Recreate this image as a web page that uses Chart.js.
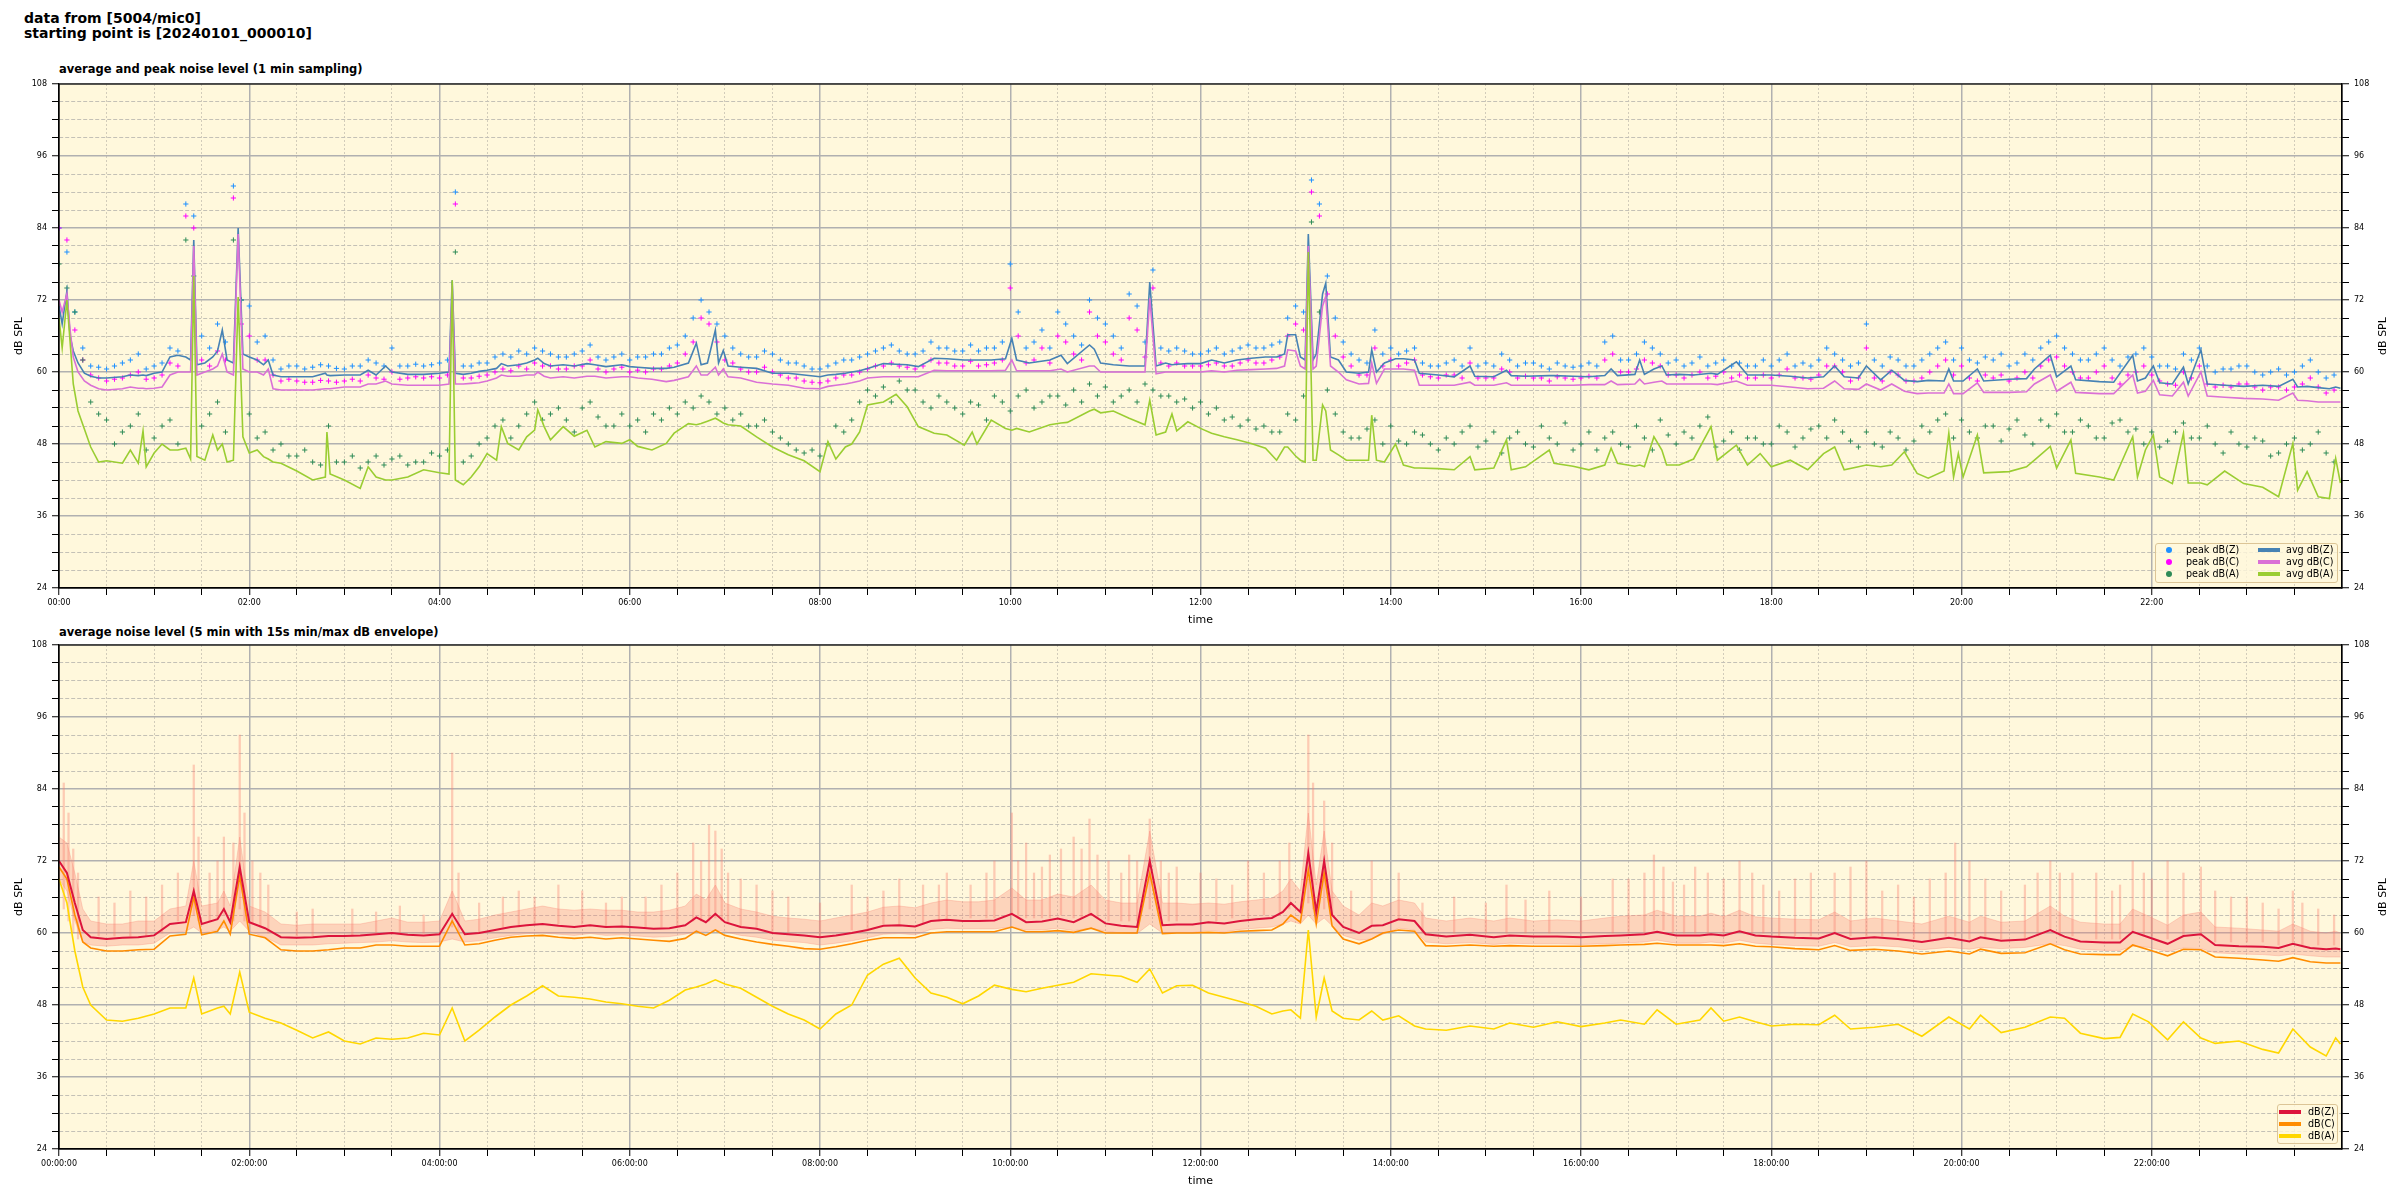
<!DOCTYPE html>
<html>
<head>
<meta charset="utf-8">
<title>noise level</title>
<script src="https://cdn.jsdelivr.net/npm/chart.js@4.4.1/dist/chart.umd.min.js"></script>
<style>
html,body{margin:0;padding:0;background:#ffffff;}
body{position:relative;width:2400px;height:1200px;overflow:hidden;font-family:"DejaVu Sans",sans-serif;color:#000;}
#sup{position:absolute;left:24px;top:11px;font-weight:bold;font-size:14px;line-height:15px;white-space:pre;}
.sub{position:absolute;left:59px;font-weight:bold;font-size:11.5px;line-height:13px;white-space:nowrap;}
.rt{position:absolute;font-size:11px;line-height:13px;white-space:nowrap;transform:translate(-50%,-50%) rotate(-90deg);}
.cv{position:absolute;left:0;}
.lg{position:absolute;background:rgba(255,248,220,0.8);border:1px solid #dcc596;border-radius:3px;box-sizing:border-box;font-size:9.6px;}
.lg span{position:absolute;display:block;white-space:nowrap;line-height:12px;}
</style>
</head>
<body>
<div id="sup">data from [5004/mic0]
starting point is [20240101_000010]</div>
<div class="sub" style="top:63px">average and peak noise level (1 min sampling)</div>
<div class="sub" style="top:626px">average noise level (5 min with 15s min/max dB envelope)</div>
<canvas id="c1" class="cv" width="2400" height="580" style="top:60px"></canvas>
<canvas id="c2" class="cv" width="2400" height="580" style="top:620px"></canvas>
<div class="rt" style="left:2382px;top:336px">dB SPL</div>
<div class="rt" style="left:2382px;top:897px">dB SPL</div>
<div id="lg1" class="lg" style="left:2155px;top:543px;width:183px;height:40px"></div>
<div id="lg2" class="lg" style="left:2277px;top:1104px;width:61px;height:40px"></div>
<script>
// ---------- top chart: 1-min averages (minutes since 00:00) ----------
const avgMinutes = [
 0,2,5,7,9,12,16,20,25,30,
 40,45,50,53,55,60,65,70,75,80,83,
 85,87,92,97,100,103,106,110,113,116,120,125,129,132,135,
 140,150,160,168,169,171,180,190,195,200,206,210,220,230,240,246,248,250,
 255,260,265,270,276,279,283,290,295,300,302,306,310,318,325,333,338,345,355,
 360,365,374,383,388,397,402,405,409,414,416,419,422,430,
 440,450,460,470,480,485,490,496,500,505,510,520,528,535,542,
 552,560,571,576,579,588,597,601,604,612,625,632,636,
 650,653,657,665,675,685,688,692,698,702,705,712,720,
 727,735,743,752,761,768,773,775,780,783,786,788,791,793,797,799,802,
 807,812,820,826,828,831,836,843,848,855,858,
 870,880,890,893,905,913,916,925,940,943,955,965,975,979,983,994,997,1000,
 1006,1011,1014,1022,1031,1042,1046,1058,1065,1073,1080,
 1092,1103,1113,1120,1126,1135,1140,1149,1156,1164,1172,1179,1189,1192,1195,1198,1201,1210,1214,
 1230,1241,1246,1256,1260,1269,1272,1287,1296,1308,1311,1316,1321,1325,1333,1340,1343,
 1351,1355,1366,1378,1390,1400,1409,1412,1418,1425,1432,1436,1439
];
const avgZ = [
 71,68,73.5,66,63.5,61.5,59.8,59.3,59,59,
 59.2,59.5,59.4,59.5,59.4,59.8,60,62.5,62.8,62.5,62,
 82,61.2,61.5,62.5,63.5,67,62,61.5,84,63,62.5,62,61.2,62,59.5,
 59.2,59.2,59.2,59.8,59.5,59.4,59.5,59.5,60.3,59.5,61,60,59.6,59.6,59.8,60,75.3,59.8,
 59.6,59.8,60.1,60.3,60.6,61.4,61,61.2,61.5,62,62.3,61.4,61,61.2,61,61.4,61.2,60.9,61.2,
 60.9,60.8,60.6,60.6,60.8,61.5,64.8,61.2,61.5,67,61.5,63.6,61,60.8,
 60.6,59.8,59.8,59.5,59.2,59.5,59.6,59.8,60,60.2,60.6,61.4,61.3,61.2,60.9,
 62.3,62.2,62,62,62,62,62.2,65.6,62,61.5,62,62.8,61.4,
 64.5,63.8,61.5,61.2,61,61,75,61,61.5,61.2,61.3,61.4,61.4,
 62,61.5,62,62.3,62.5,62.5,63,66.2,66.2,62.5,62,83,62,63,73,74.8,62.5,
 62,60,59.8,60,63.7,60,61.5,62.2,62.2,62,59.8,
 59.5,59.2,61,59.3,59.2,60.3,59.4,59.3,59.4,59.4,59.3,59.2,59.4,60.5,59.4,59.6,62,59.6,
 60.5,61,59.5,59.6,59.5,59.8,59.6,61.7,59.5,59.5,59.5,
 59.3,59,59.2,61,59.2,59,61,58.7,60.3,58.6,58.4,58.6,58.5,60.5,58.5,58.5,58.5,60.5,58.5,
 58.8,58.9,60.5,62.8,59.2,61,58.7,58.4,58.3,62.8,58.5,59,61,58.2,58,60.8,58,
 63.7,58,57.8,57.6,57.8,57.6,58.8,57.5,57.6,57.4,57.2,57.5,57.3
];
const avgC = [
 72,70,73,67,62.5,60,58.5,57.8,57.2,57,
 57.2,57.5,57.3,57.3,57.2,57.3,57.5,59.5,60,60,60,
 81,59.5,60,60.5,61,63,60,59.5,83,60.5,60,60,59.5,60.5,57.2,
 57,57,57,57.2,57.2,57.2,57.5,57.5,58,58,58.5,58,57.8,57.8,57.8,58,74.5,58,
 58,58.1,58.2,58.5,59,59.5,59.3,59.3,59.5,59.5,60,59.3,59,59.2,59,59.3,59.3,59,59.2,
 59.2,59,58.8,58.4,58.6,59.2,61,59.5,59.5,60.8,59.5,60.5,59.2,59,
 58.3,58,57.8,57.3,57.2,57.6,57.8,58,58.2,58.5,59,59.2,59.2,59.2,59.2,
 60.3,60.2,60.2,60.2,60.2,60.2,60.3,62,60.2,60.2,60.2,60.5,60,
 61,61,60,60,60,60,72.3,59.7,60,60,60,60,60,
 60.2,60,60.3,60.4,60.5,60.6,61,63.7,63.5,61,60.5,81,60.5,61,71,72.6,61,
 60,58.7,58,58.1,61.5,58.1,60.5,60.5,60.5,60.3,57.8,
 57.8,57.8,58.3,57.8,57.8,58.2,57.8,57.8,57.8,57.8,57.8,57.9,57.9,58.5,57.9,58,58.8,58,
 58.3,58.5,58,58,58,58,57.9,58.5,57.8,57.8,57.8,
 57.5,57.2,57.3,58.5,57.2,57.1,58,57,58,56.8,56.4,56.5,56.5,58,56.4,56.4,56.4,58.2,56.6,
 56.6,56.7,58,59.5,56.8,58.3,56.6,56.4,56.4,59.5,56.5,56.8,58.6,56.2,56,58.3,56,
 60,56,55.8,55.6,55.5,55.3,56.5,55.3,55.2,55,55,55,55
];
const avgA = [
 69,64,72,65,58,53.5,50.5,47.5,45,45.2,
 44.8,47,44.8,50.2,44.2,46.5,48,47,47,47.3,45.5,
 76,45.9,45.3,49.5,47,48,45,45.3,72.5,49.2,46.5,47,45.9,45.5,45,
 44.8,43.5,42,42.5,50,43,42,40.6,44.2,42.5,42,42,42.5,43.7,43.2,43,75.3,42,
 41.2,42.5,44.2,46.4,45.3,50.9,48.1,47,49.2,50.3,53.7,50.9,48.7,50.9,49.3,50.3,47.5,48.4,48.1,
 48.7,47.6,47,48.1,49.8,51.4,51.2,51.4,51.8,52.3,52,51.5,51.2,51,
 49.2,47.5,46.2,45.2,43.4,48.4,45.5,47.5,48,50,54.5,55,56.3,54.2,50.9,
 49.8,49.5,47.8,50,48,52,50.6,50.3,50.6,50,51.2,51.5,51.6,
 53.5,53.8,53.2,53.5,52.3,51.2,55.3,49.5,50,53,50.2,51.7,50.6,
 49.8,49.2,48.7,48.1,47.3,45.3,47.5,47.5,46,45.3,45,80,45.3,45.3,54.5,53.5,47,
 46.2,45.3,45.3,45.3,52.8,45.3,45,48,44.5,44,44,
 43.9,43.7,45.9,43.7,44,48.7,43.7,44.2,47,44.8,44.3,43.7,44.5,47.3,44.8,44.3,44.5,44.2,
 49.2,47,44.5,44.5,45.5,50.9,45.3,47.8,44.5,46.4,44.2,
 45.3,43.7,46.4,47.5,43.7,44.2,44.5,44.2,44.5,46.7,43.1,42.3,43.5,49.8,42.5,46.4,42.5,49.5,43.2,
 43.4,44.2,45.3,47.6,44,48.7,43.1,42.5,42,49.2,42.5,47,49.5,42.5,41.4,49.8,41.5,
 41.5,41.2,43.5,41.4,40.8,39.2,48.1,40.3,43.4,39.2,38.9,45.6,41.5
];

// ---------- top chart: 1-min peaks, sampled every 5 minutes ----------
const peakMinutes = [
 0,5,10,15,20,25,30,35,40,45,50,55,60,65,70,75,80,85,90,95,100,105,110,115,
 120,125,130,135,140,145,150,155,160,165,170,175,180,185,190,195,200,205,210,215,220,225,230,235,
 240,245,250,255,260,265,270,275,280,285,290,295,300,305,310,315,320,325,330,335,340,345,350,355,
 360,365,370,375,380,385,390,395,400,405,410,415,420,425,430,435,440,445,450,455,460,465,470,475,
 480,485,490,495,500,505,510,515,520,525,530,535,540,545,550,555,560,565,570,575,580,585,590,595,
 600,605,610,615,620,625,630,635,640,645,650,655,660,665,670,675,680,685,690,695,700,705,710,715,
 720,725,730,735,740,745,750,755,760,765,770,775,780,785,790,795,800,805,810,815,820,825,830,835,
 840,845,850,855,860,865,870,875,880,885,890,895,900,905,910,915,920,925,930,935,940,945,950,955,
 960,965,970,975,980,985,990,995,1000,1005,1010,1015,1020,1025,1030,1035,1040,1045,1050,1055,1060,1065,1070,1075,
 1080,1085,1090,1095,1100,1105,1110,1115,1120,1125,1130,1135,1140,1145,1150,1155,1160,1165,1170,1175,1180,1185,1190,1195,
 1200,1205,1210,1215,1220,1225,1230,1235,1240,1245,1250,1255,1260,1265,1270,1275,1280,1285,1290,1295,1300,1305,1310,1315,
 1320,1325,1330,1335,1340,1345,1350,1355,1360,1365,1370,1375,1380,1385,1390,1395,1400,1405,1410,1415,1420,1425,1430,1435
];
const peakZ = [
 84,80,70,64,61,60.8,60.5,61,61.5,62,63,60.5,61,61.5,64,63.5,88,86,66,64,68,65,91,72,
 71,65,66,62,60.5,61,61,60.5,60.8,61.2,61,60.6,60.5,61,61,62,61.5,61,64,61,61,61.3,61,61.2,
 61.5,62,90,61,61,61.5,61.5,62.5,63,62.5,63.5,63,64,63.5,63,62.5,62.5,63,63.5,64.5,62.5,62,62.5,63,
 62,62.5,62.5,63,63,64,64.5,66,69,72,70,68,66,64,63,62.5,62.5,63.5,63,62,61.5,61.5,61,60.5,
 60.5,61,61.5,62,62,62.5,63,63.5,64,64.5,63.5,63,63,63.5,65,64,64,63.5,63.5,64.5,63.5,64,64,65,
 78,70,64,65,67,64,70,68,66,64.5,72,69,68,66,64,73,71,65,77,64,63.5,64,63.5,63,
 63,63.5,64,63,63.5,64,64.5,64,64,64.5,65,69,71,70,92,88,76,69,65,63,62,61.5,67,63,
 64,63,63.5,64,61.5,61,61,61.5,62,61,64,61,61.5,61,63,62,61,61.5,61.5,61,60.5,61.5,61,60.8,
 61,61.5,61,65,66,62,62,63,65,64,63,61.5,62,61,61.5,62.5,61,61.5,62,61,61.5,61,61,62,
 61,62,63,61,61.5,61,62,64,63,62,61,61.5,68,62,61,62.5,62,61,61,62,63,64,65,62,
 64,62,61.5,62.5,62,63,61,61.5,63,62,64,65,66,64,63,62,62,63,64,62,61,62.5,63,64,
 62.5,61,61,60.5,63,62,64,61,60,60.5,60.5,61,61,60,59.5,60,60.5,59.5,60,61,62,60,59,59.5
];
const peakC = [
 84,82,67,62,59.5,59,58.5,58.8,59,59.5,60,58.8,59,59.5,61.5,61,86,84,62,61,63.5,62,89,68,
 66,62,62,59.5,58.5,58.8,58.5,58.3,58.3,58.6,58.5,58.3,58.5,58.8,58.5,59.5,59,58.8,60,58.8,59,59.2,59,59.2,
 59,59.5,88,59,59,59.3,59.5,60,60.5,60.2,61,60.5,61.5,61,61,60.5,60.5,61,61,62,60.5,60,60.5,60.8,
 60,60.3,60,60.5,60.5,61,61.5,63,65,69,68,65,62,61.5,60.5,60,60,60.8,60,59.5,59,59,58.5,58.3,
 58.2,58.5,59,59.5,59.5,60,60.5,61,61,61.5,61,60.8,60.5,61,62,61.5,61.5,61,61,61.8,61,61.2,61.5,62,
 74,66,61.5,62,64,61.5,66,65,63,62,70,66,65,63,62,69,67,62.5,74,61.5,61,61.5,61,61,
 61,61.2,61.5,61,61,61.5,62,61.5,61.5,62,62.5,66,68,67,90,86,73,66,62.5,61,59.5,59.5,64,61,
 62,61,61.5,62,59.5,59.2,59,59.5,59.5,59,61.5,59,59,59,60.5,60,59,59.3,59,59,58.5,59.2,59,58.8,
 59,59.3,59,62,63,60,60,60.5,62,61.5,61,59.5,59.5,59,59.5,60,59,59.3,60,59,59.5,59,59,59.5,
 59,59.5,60.5,59,59,58.8,59.5,61,61,60,58.5,59,64,59,58.5,60,59.5,58.5,58.5,59,60,61,62,59.5,
 61,59,58.5,59.5,59,59.5,58.5,59,60,59,61,62,62.5,61,60,59,59,60,61,59,58,59.5,60,61,
 59.5,58.5,58,57.8,60,59,61,58,57.5,57.8,57.5,58,58,57.5,57,57.5,57.5,57,57.5,58,59,57.5,56.5,57
];
const peakA = [
 78,74,70,62,55,53,52,48,50,51,53,47,49,51,52,48,82,76,51,53,55,50,82,72,
 53,49,50,47,48,46,46,47,45,44.5,51,45,45,46,44,45,46,44.5,45.5,46,44.5,45,45,46.5,
 46,47,80,45,46,48,49,51,52,49,51,53,55,52,53,54,52,50,54,55,52.5,51,51,53,
 51,52,50,53,52,54,53,55,54,56,55,53,54,52,53,51,51,52,50,49,48,47,46.5,47,
 46,48,51,50,52,55,57,56,57.5,55,58.5,57,57,55,54,56,55,54,53,55,54.5,52,56,55,
 53.5,56,57,54,55,56,56,54.5,57,55,58,56,57.5,55,56,57,55,58,57,56,56,55,55.5,54,
 55,53,54,52,52.5,51,52,50.5,51,50,50,53,52,56,85,70,57,53,50,49,49,50.5,52,48,
 51,48.5,48,50,49.5,48,47,49,48,50,51,47.5,48.5,50,46.5,49,50,48,47.5,51,49,48,51.5,47,
 48,50,47,49,50,48,47.5,51,49,47,52,49.5,48,50,49,51,52.5,47.5,48.5,50,47,49,49,48,
 48,51,50,47.5,49,50.5,51,49,52,50,48.5,47.5,50,48,47.5,50,49,47,48.5,51,50,52,53,49,
 52,50,49,51,51,48.5,50.5,52,49.5,48,52,51,53,50,50,52,51,49,49,51.5,52,50,50.5,48,
 50,47.5,48.5,50,51.5,49,49,51,48,46.5,50,48,47.5,49,48.5,46,46.5,48,49,47,48,50,46.5,45
];

// ---------- bottom chart: 5-min averages and 15 s envelope ----------
const bMinutes = [
 0,5,10,15,20,30,40,50,60,70,80,85,90,100,104,108,114,120,130,140,
 150,160,170,180,190,200,210,220,230,240,248,256,265,275,285,295,305,315,325,335,
 345,355,365,375,385,395,402,408,414,420,430,440,450,460,470,480,490,500,510,520,
 530,540,550,560,570,580,590,601,610,620,630,640,651,660,670,680,688,696,705,715,
 725,735,745,755,765,772,777,783,788,793,798,803,810,820,828,835,845,855,862,875,
 890,905,915,930,945,960,975,985,1000,1008,1020,1035,1042,1050,1060,1070,1080,1095,1110,1120,
 1130,1145,1160,1175,1192,1205,1212,1225,1240,1256,1265,1275,1290,1300,1308,1318,1330,1340,1351,1360,
 1375,1390,1400,1409,1420,1430,1436,1439
];
const bZ = [
 72,70,65,60.5,59.3,59,59.2,59.3,59.6,61.5,61.8,67,61.5,62.3,64,61.8,71,61.8,60.8,59.3,
 59.2,59.3,59.5,59.5,59.6,59.8,60,59.7,59.6,59.8,63.2,59.8,60,60.5,61,61.3,61.5,61.2,61,61.3,
 61,61.1,60.9,60.7,60.8,61.3,62.6,61.8,63.2,61.8,61,60.7,60,59.8,59.6,59.3,59.6,60,60.5,61.2,
 61.3,61.1,62,62.2,62,62,62.1,63.2,61.8,61.9,62.4,61.8,63.2,61.6,61.2,61,72,61.3,61.4,61.4,
 61.8,61.6,62,62.3,62.5,63.5,65,63.5,73.3,63.5,72,63,61,60,61.2,61.3,62.3,62,59.8,59.4,
 59.7,59.3,59.6,59.4,59.4,59.3,59.5,59.6,59.8,60.2,59.6,59.6,59.8,59.6,60.3,59.6,59.4,59.2,59.1,60,
 59,59.3,59,58.5,59.2,58.6,59.3,58.7,58.9,60.5,59.4,58.6,58.4,58.4,60.2,59.3,58.2,59.5,59.8,58,
 57.8,57.7,57.5,58.2,57.5,57.3,57.4,57.3
];
const bC = [
 71,69,63,58.5,57.5,57,57,57.2,57.3,59.5,59.8,66,59.7,60.3,62,59.8,69.5,59.8,59.2,57.2,
 57,57,57.2,57.5,57.5,58,58,57.8,57.8,57.8,62,58,58.2,58.8,59.3,59.5,59.6,59.3,59.1,59.3,
 59,59.2,59,58.8,58.6,59.1,60.3,59.6,60.5,59.6,59,58.5,58.1,57.8,57.4,57.3,57.7,58.2,58.8,59.2,
 59.2,59.2,60,60.2,60.2,60.2,60.2,61,60.2,60.2,60.4,60.1,60.8,60,60,60,70,59.9,60,60,
 60.1,60,60.3,60.4,60.5,61.5,63,61.8,70.5,61.5,70,61.2,59,58.2,59,60,60.5,60.3,57.9,57.8,
 58,57.8,57.9,57.8,57.8,57.8,57.9,58,58.1,58.3,58,58,58,57.9,58.2,57.8,57.7,57.4,57.2,57.9,
 57.1,57.3,57,56.5,57,56.5,57.3,56.6,56.7,58.2,57.2,56.5,56.4,56.4,58,57.2,56.2,57.3,57.2,56,
 55.8,55.5,55.3,55.9,55.2,55,55,55
];
const bA = [
 69,65,57,51,48,45.5,45.3,45.8,46.5,47.5,47.5,52.5,46.5,47.5,47.8,46.5,53.5,46.8,45.8,45,
 43.8,42.5,43.5,42,41.5,42.5,42.3,42.5,43.3,43,47.5,42,43.8,46,48,49.5,51.2,49.5,49.3,49,
 48.5,48.2,47.8,47.5,48.8,50.5,51,51.5,52.2,51.5,50.8,49.3,47.8,46.5,45.5,44,46.5,48,53,54.8,
 55.8,52.5,50,49.3,48.2,49.5,51.3,50.6,50.2,50.8,51.3,51.8,53.2,53,52.8,51.8,54,50,51.2,51.3,
 50,49.3,48.6,47.8,46.5,47,47.2,45.8,60.5,46,52.5,47,45.8,45.5,47,45.5,46.2,44.5,44,43.8,
 44.5,44,45,44.3,45.2,44.4,45,45.5,44.8,47.2,44.8,45.5,47.5,45.3,46,45.2,44.5,44.8,44.7,46.3,
 44,44.3,44.8,42.8,46,44,46.3,43.4,44.3,46,45.8,43.3,42.4,42.6,46.5,45.2,42.2,45.2,42.5,41.6,
 42,40.6,40,44,41,39.5,42.5,41.5
];
const envHigh = [
 76,75,70,64,62,61.5,61.5,62,62,64,64.5,72,64.5,65,67,64.5,76,64.5,63.5,61.5,
 61.3,61.5,61.5,61.5,61.5,62,62.5,61.8,61.8,62,67,62,62.3,63,63.5,64,64.5,64,63.8,64,
 63.8,63.8,63.5,63.5,63.8,64.5,66.5,65.5,68,65,64,63.5,62.8,62.5,62.3,62,62.5,63,63.5,64.3,
 64.5,64.2,65,65.5,65.2,65.2,65.5,67.5,65.5,65.5,66.5,66,68,65.5,65,65,77,65,65,64.8,
 65,64.8,65.2,65.5,65.8,67,69,67,80,68,77,67,64.5,63,65,64.5,65.5,65,62.5,62,
 62.5,62,62.5,62,62.2,62,62.5,62.8,63,63.8,62.8,62.8,63.3,62.7,63.8,62.7,62.5,62.3,62.2,63.5,
 62,62.5,62,61.5,62.8,61.8,62.8,61.8,62,64.5,62.8,61.8,61.5,61.5,64,62.8,61.3,63,63.5,61,
 60.8,60.5,60.3,61.5,60.3,60,60.3,60
];
const envLow = [
 69,67,62,58.5,58,57.8,58,58,58.3,60,60.3,61,60,60.5,61,60.3,62,60.3,59.3,58,
 58,58,58.2,58.3,58.4,58.5,58.7,58.5,58.4,58.5,59,58.5,58.7,59.2,59.6,59.9,60,59.8,59.6,59.9,
 59.6,59.7,59.5,59.3,59.4,59.8,60.3,60.2,60.5,60.2,59.6,59.3,58.8,58.6,58.4,58,58.3,58.7,59.2,59.8,
 59.9,59.7,60.6,60.8,60.7,60.7,60.7,61,60.5,60.5,60.8,60.4,60.8,60.3,60,59.9,61.5,60,60.1,60.1,
 60.4,60.2,60.6,60.8,61,61.5,62,61.5,63,61.5,62.5,61.2,59.6,58.8,59,59.8,60.8,60.5,58.5,58.2,
 58.4,58.1,58.3,58.2,58.2,58.1,58.2,58.3,58.5,58.8,58.3,58.3,58.5,58.3,58.8,58.3,58.1,57.9,57.8,58.4,
 57.7,57.9,57.7,57.2,57.6,57.3,57.6,57.4,57.6,58.2,57.9,57.3,57.1,57.1,57.8,57.6,56.9,57.5,57.4,56.7,
 56.5,56.4,56.2,56.5,56.2,56,56,56
];
// short 15 s maxima that stick out of the envelope
const spikeMinutes = [
 3,6,9,12,25,35,45,55,65,75, 85,88,95,100,104,110,114,117,122,127,
 132,160,200,230,248,252,280,300,330,345, 370,390,400,405,410,414,418,422,440,460,
 500,520,545,560,575,590,601,605,615,625, 632,640,650,655,662,670,680,688,695,705,
 720,740,760,776,788,791,798,803,828,845, 880,913,940,980,1000,1006,1012,1025,1040,1060,
 1075,1095,1120,1140,1160,1190,1196,1205,1215,1256, 1270,1300,1308,1320,1340,1351,1370,1390,1409,1425,
 150,185,215,265,290,315,355,380,430,450, 480,510,530,555,585,610,620,645,675,700,
 730,750,770,815,860,900,925,960,990,1018, 1032,1050,1068,1085,1105,1130,1150,1170,1180,1225,
 1240,1248,1262,1285,1295,1315,1330,1360,1380,1400, 1415,1435
];
const spikeHigh = [
 85,80,74,70,66,65,67,66,68,70, 88,76,70,72,76,75,93,80,72,70,
 68,64,63.5,63,90,70,66,66,67,65, 66,70,75,72,78,77,74,70,68,66,
 68,67,68,70,68,72,80,72,70,73, 74,76,79,73,72,70,72,79,72,71,
 70,68,70,75,93,85,82,75,72,70, 66,68,67,69,70,73,71,68,70,72,
 68,69,70,72,68,70,75,72,69,72, 70,68,72,69,70,71,66,65,67,64,
 63.5,64,64.5,65,67,68,66,68,69,67, 65,66,69,68,70,75,71,74,73,70,
 69,72,72,67,65,65,65.5,66,69,68.5, 71,69,70,67,70,71,67,66,69,67,
 68,70,70,70,67,70,72,67,66,64, 65,63
];
const spikeLow = [
 64,62,60,59,59.5,59.5,59.5,59.5,60,62, 63,62,62,62.5,63,62,64,62,61.5,61,
 60,59.5,60,60,61,60,61,61.5,61.5,61, 61,61,62,62,62,62.5,62,61.5,61,60,
 60.5,61.5,61.5,62.5,62.5,62.5,63,62.5,62.5,62.5, 63,62.5,63,62.5,62,62,62,64,62,62,
 62,62.5,63,64,65,64,64,63,61.5,62.5, 60,60,60,60,60,60.5,60.5,60,60,60.5,
 60,59.5,60,59.5,59.5,59.5,59.5,59,59,60.5, 59.5,59,60,59.5,59.5,59.5,58.5,58.5,58.5,58,
 59.5,59.5,60,60,61,61.5,61,61,61,60, 59.5,60.5,61.5,62,62.5,62.5,62.5,62.5,62,62,
 62,62.5,63,60,60,60,60,60,60,60, 60,60,60,59.5,59.5,59.5,59.5,59,59,59,
 59,59.5,59.5,59,59,59.5,59,58.5,58.5,58, 58,58
];

// axis tick settings
const Y_MIN = 24, Y_MAX = 108, Y_MINOR = 3, Y_MAJOR = 12;
const X_MIN = 0, X_MAX = 1440, X_MINOR = 30, X_MAJOR = 120;

// ---------- helpers ----------
Chart.defaults.font.family = '"DejaVu Sans", sans-serif';
Chart.defaults.color = '#000';

function pts(xs, ys){ return xs.map((x, i) => ({x: x, y: ys[i]})); }
function hhmm(v, secs){
  const t = Math.round(v);
  const h = Math.floor(t / 60), m = t % 60;
  const s = (h < 10 ? '0' : '') + h + ':' + (m < 10 ? '0' : '') + m;
  return secs ? s + ':00' : s;
}
const onStep = (v, step) => { const r = v / step; return Math.abs(r - Math.round(r)) < 1e-6; };
const isMajX = c => !!(c.tick && onStep(c.tick.value, X_MAJOR));
const isMajY = c => !!(c.tick && onStep(c.tick.value, Y_MAJOR));

const areaPlugin = {
  id: 'plotArea',
  beforeDraw(chart){
    const {ctx, chartArea: a} = chart;
    ctx.save();
    ctx.fillStyle = '#fff8dc';
    ctx.fillRect(a.left, a.top, a.right - a.left, a.bottom - a.top);
    ctx.restore();
  },
  afterDraw(chart){
    const {ctx, chartArea: a} = chart;
    ctx.save();
    ctx.strokeStyle = '#000';
    ctx.lineWidth = 1.2;
    ctx.strokeRect(a.left, a.top, a.right - a.left, a.bottom - a.top);
    ctx.restore();
  }
};

function xAxis(secs, axisH, titlePad){
  return {
    type: 'linear', position: 'bottom', min: X_MIN, max: X_MAX, offset: false,
    afterFit(s){ s.height = axisH; },
    // the day ends just before 24:00, so no tick/label at the right edge
    afterBuildTicks(s){ s.ticks = s.ticks.filter(t => t.value < X_MAX); },
    ticks: { stepSize: X_MINOR, autoSkip: false, includeBounds: false, maxRotation: 0,
             color: '#000', font: {size: 8}, padding: 3,
             callback: v => (onStep(v, X_MAJOR) ? hhmm(v, secs) : '') },
    grid: { offset: false, color: c => isMajX(c) ? '#b0b0b0' : '#d2ccba',
            lineWidth: c => isMajX(c) ? 1.5 : 1, tickLength: 7, tickColor: '#000', tickWidth: 1 },
    border: { display: true, color: '#000', width: 1.2, dash: c => (c.tick && !isMajX(c)) ? [2, 2] : [] },
    title: { display: true, text: 'time', color: '#000', font: {size: 11}, padding: {top: 0, bottom: titlePad} }
  };
}
function yAxis(pos){
  const left = pos === 'left';
  return {
    type: 'linear', position: pos, min: Y_MIN, max: Y_MAX,
    afterFit(s){ s.width = left ? 59 : 58; },
    ticks: { stepSize: Y_MINOR, autoSkip: false, includeBounds: false, color: '#000',
             font: {size: 8}, padding: 5,
             callback: v => (onStep(v, Y_MAJOR) ? String(Math.round(v)) : '') },
    grid: { drawOnChartArea: left, color: c => isMajY(c) ? '#b0b0b0' : '#c4c1b6',
            lineWidth: c => isMajY(c) ? 1.5 : 1, tickLength: 7, tickColor: '#000', tickWidth: 1 },
    border: { display: true, color: '#000', width: 1.2, dash: c => (c.tick && !isMajY(c)) ? [4, 2] : [] },
    title: { display: left, text: 'dB SPL', color: '#000', font: {size: 11}, padding: {top: 12.4, bottom: 0} }
  };
}
function options(padTop, secs, axisH, titlePad){
  return {
    responsive: false, animation: false, devicePixelRatio: 1, events: [],
    layout: { padding: {top: padTop, left: 0, right: 0, bottom: 0} },
    plugins: { legend: {display: false}, tooltip: {enabled: false} },
    elements: { line: {tension: 0}, point: {radius: 0} },
    scales: { x: xAxis(secs, axisH, titlePad), y: yAxis('left'), y2: yAxis('right') }
  };
}

// ---------- top chart ----------
function peakSet(label, ys, color, order){
  return { label, data: pts(peakMinutes, ys), showLine: false, pointStyle: 'cross',
           pointRadius: 2.6, pointBorderWidth: 1, borderColor: color, backgroundColor: color,
           order, legendKind: 'dot' };
}
function lineSet(label, xs, ys, color, width, order){
  return { label, data: pts(xs, ys), borderColor: color, backgroundColor: color,
           borderWidth: width, pointRadius: 0, fill: false, order, legendKind: 'line' };
}
const chart1 = new Chart(document.getElementById('c1'), {
  type: 'line',
  data: { datasets: [
    peakSet('peak dB(Z)', peakZ, '#1e90ff', 5),
    peakSet('peak dB(C)', peakC, '#ff00ff', 4),
    peakSet('peak dB(A)', peakA, '#2e8b57', 3),
    lineSet('avg dB(Z)', avgMinutes, avgZ, '#4682b4', 1.6, 2),
    lineSet('avg dB(C)', avgMinutes, avgC, '#da70d6', 1.6, 1),
    lineSet('avg dB(A)', avgMinutes, avgA, '#9acd32', 1.6, 0)
  ]},
  options: options(24, false, 52, 13.4),
  plugins: [areaPlugin]
});

// ---------- bottom chart ----------
const envFill = 'rgba(250,128,114,0.30)';
const chart2 = new Chart(document.getElementById('c2'), {
  type: 'line',
  data: { datasets: [
    lineSet('dB(Z)', bMinutes, bZ, '#dc143c', 2, 0),
    lineSet('dB(C)', bMinutes, bC, '#ff8c00', 1.6, 1),
    lineSet('dB(A)', bMinutes, bA, '#ffd700', 1.6, 2),
    { label: 'max', data: pts(bMinutes, envHigh), borderColor: 'rgba(250,128,114,0.3)', borderWidth: 1,
      backgroundColor: envFill, pointRadius: 0, fill: '+1', order: 4, legendKind: 'none' },
    { label: 'min', data: pts(bMinutes, envLow), borderColor: 'rgba(250,128,114,0.3)', borderWidth: 1,
      pointRadius: 0, fill: false, order: 5, legendKind: 'none' },
    { type: 'bar', label: 'spikes', data: spikeMinutes.map((t, i) => ({x: t, y: [spikeLow[i], spikeHigh[i]]})),
      backgroundColor: 'rgba(250,128,114,0.38)', borderWidth: 0, barThickness: 1.6, grouped: false,
      order: 3, legendKind: 'none' }
  ]},
  options: options(25, true, 51, 12.4),
  plugins: [areaPlugin]
});

// ---------- HTML legends built from the chart datasets ----------
function legend(el, chart, cells){
  cells.forEach(c => {
    const ds = chart.data.datasets[c.idx];
    const color = ds.borderColor;
    if (ds.legendKind === 'dot'){
      const d = document.createElement('span');
      d.style.cssText = `left:${c.mx - 3}px;top:${c.y - 3}px;width:6px;height:6px;border-radius:3px;background:${color}`;
      el.appendChild(d);
    } else {
      const l = document.createElement('span');
      l.style.cssText = `left:${c.mx}px;top:${c.y - 2}px;width:22px;height:3.5px;background:${color}`;
      el.appendChild(l);
    }
    const t = document.createElement('span');
    t.textContent = ds.label;
    t.style.cssText = `left:${c.tx}px;top:${c.y - 6.5}px`;
    el.appendChild(t);
  });
}
legend(document.getElementById('lg1'), chart1, [
  {idx: 0, mx: 13, tx: 30, y: 6}, {idx: 1, mx: 13, tx: 30, y: 18}, {idx: 2, mx: 13, tx: 30, y: 30},
  {idx: 3, mx: 102, tx: 130, y: 6}, {idx: 4, mx: 102, tx: 130, y: 18}, {idx: 5, mx: 102, tx: 130, y: 30}
]);
legend(document.getElementById('lg2'), chart2, [
  {idx: 0, mx: 1, tx: 30, y: 7}, {idx: 1, mx: 1, tx: 30, y: 19}, {idx: 2, mx: 1, tx: 30, y: 31}
]);
</script>
</body>
</html>
